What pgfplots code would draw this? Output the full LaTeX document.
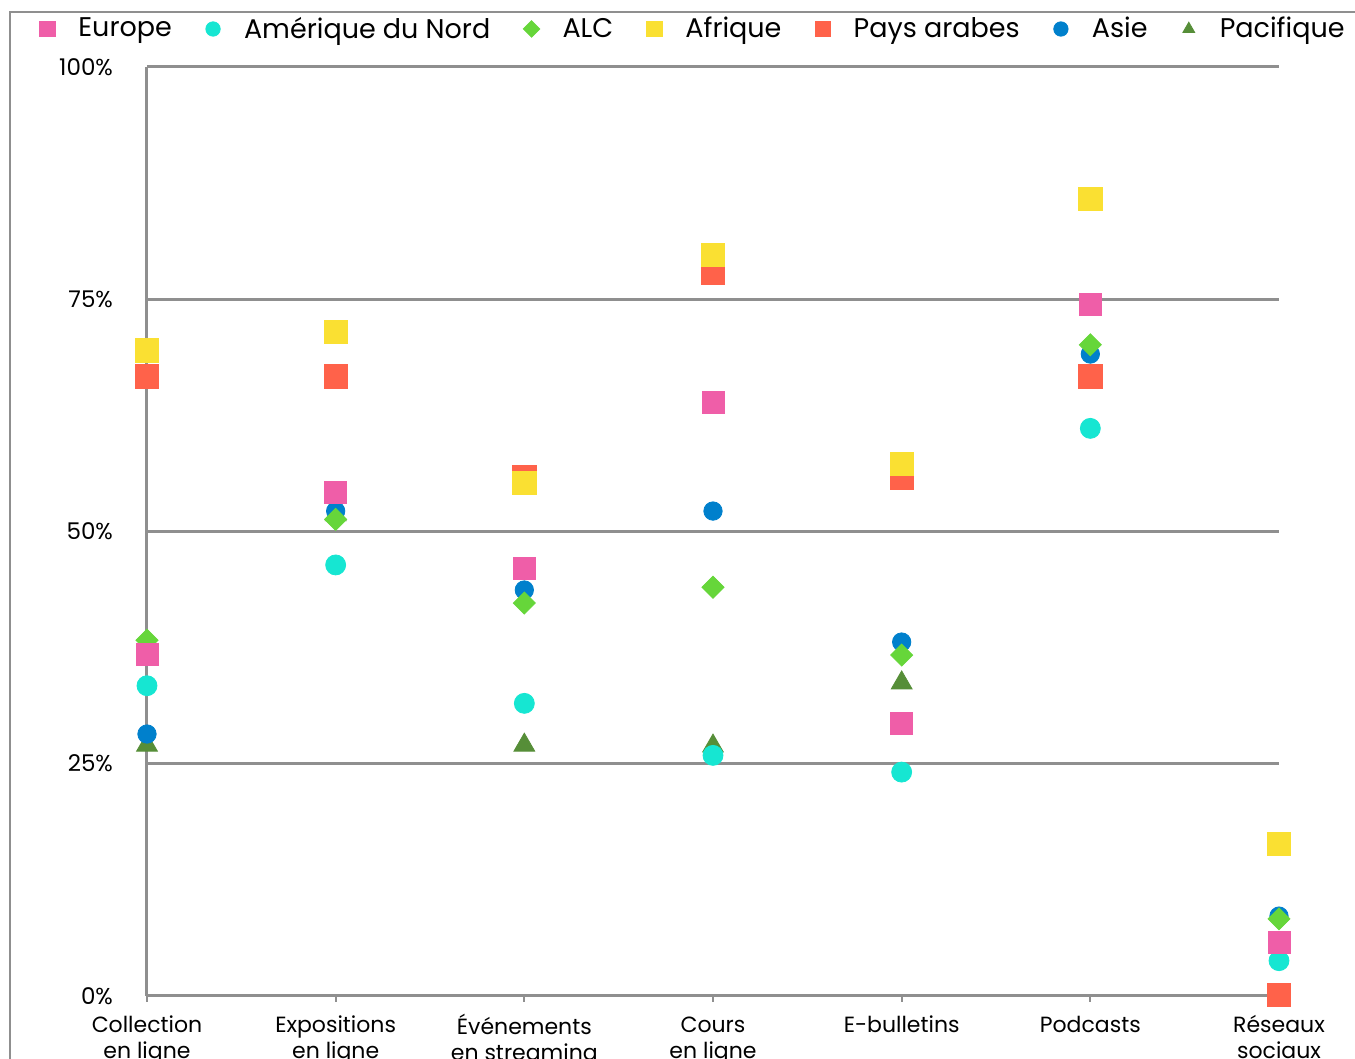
\documentclass[border=0pt]{standalone}
\usepackage{fontspec}
\setmainfont{Poppins}
\usepackage{pgfplots}
\pgfplotsset{compat=1.18}
\definecolor{europe}{RGB}{239,94,168}
\definecolor{amnord}{RGB}{22,230,210}
\definecolor{alc}{RGB}{102,214,58}
\definecolor{afrique}{RGB}{250,224,50}
\definecolor{arabes}{RGB}{255,98,74}
\definecolor{asie}{RGB}{0,128,204}
\definecolor{pacifique}{RGB}{86,142,56}
\definecolor{gridgray}{RGB}{143,143,143}
\pgfplotsset{
  mystyle/.style={only marks, mark options={draw=none},
    legend image code/.code={\path[draw=none,fill=none] (-8pt,0pt) -- (15.5pt,0pt); \path[##1, draw=none, only marks, mark size=#1] plot coordinates {(0pt,0pt)};}},
  mystyle/.default=3.8pt,
}
\begin{document}
\begin{tikzpicture}
\path[use as bounding box] (-73.5pt,-31.5pt) rectangle (604pt,498pt);
\draw[color=gridgray, line width=0.8pt] (-68.5pt,-40pt) -- (-68.5pt,492pt) -- (620pt,492pt);
\begin{axis}[
  at={(0pt,0pt)}, anchor=south west,
  scale only axis, width=566pt, height=464.5pt,
  xmin=0, xmax=6, ymin=0, ymax=100,
  clip=false,
  axis lines=left,
  axis line style={-, color=gridgray, line width=1.5pt},
  ymajorgrids, grid style={color=gridgray, line width=1.5pt},
  xtick={0,1,2,3,4,5,6},
  xticklabels={Collection\\en ligne, Expositions\\en ligne, Événements\\en streaming, Cours\\en ligne, E-bulletins, Podcasts, Réseaux\\sociaux},
  typeset ticklabels with strut,
  xticklabel style={align=center, font=\fontsize{11}{13}\selectfont, yshift=-2.5pt},
  ytick={0,25,50,75,100},
  yticklabels={0\%,25\%,50\%,75\%,100\%},
  yticklabel style={font=\fontsize{11.5}{13}\selectfont, xshift=-10.5pt, yshift=-1.5pt},
  tick align=outside, major tick length=3pt,
  xtick style={color=gridgray, line width=1pt},
  ytick style={draw=none},
  legend columns=7, reverse legend,
  legend style={draw=none, fill=none, inner sep=0pt, anchor=west, at={(-0.1025,1.0409)},
    font=\fontsize{13.5}{16}\selectfont, nodes={inner sep=0pt},
    /tikz/every even column/.append style={column sep=12.6pt}},
]
\addplot[mystyle=3.4pt, mark=triangle*, mark size=6pt, color=pacifique] coordinates {(0,27.0) (1,51.8) (2,27.0) (3,26.9) (4,33.7) (5,66.7) (6,0.0)};
\addlegendentry{Pacifique}
\addplot[mystyle=3.6pt, mark=*, mark size=4.6pt, color=asie] coordinates {(0,28.2) (1,52.2) (2,43.7) (3,52.2) (4,38.1) (5,69.1) (6,8.6)};
\addlegendentry{Asie}
\addplot[mystyle=3.8pt, mark=square*, mark size=5.8pt, color=arabes] coordinates {(0,66.7) (1,66.7) (2,55.9) (3,77.8) (4,55.8) (5,66.7) (6,0.1)};
\addlegendentry{Pays arabes}
\addplot[mystyle=3.8pt, mark=square*, mark size=5.8pt, color=afrique] coordinates {(0,69.5) (1,71.5) (2,55.2) (3,79.8) (4,57.3) (5,85.8) (6,16.4)};
\addlegendentry{Afrique}
\addplot[mystyle=2.9pt, mark=square*, mark size=3.9pt, mark options={draw=none, rotate=45}, color=alc] coordinates {(0,38.3) (1,51.3) (2,42.3) (3,44.0) (4,36.7) (5,70.1) (6,8.3)};
\addlegendentry{ALC}
\addplot[mystyle=3.6pt, mark=*, mark size=5pt, color=amnord] coordinates {(0,33.4) (1,46.4) (2,31.5) (3,25.9) (4,24.1) (5,61.1) (6,3.8)};
\addlegendentry{Amérique du Nord}
\addplot[mystyle=3.8pt, mark=square*, mark size=5.5pt, color=europe] coordinates {(0,36.8) (1,54.2) (2,46.0) (3,63.9) (4,29.3) (5,74.4) (6,5.8)};
\addlegendentry{Europe}
\end{axis}
\end{tikzpicture}
\end{document}
